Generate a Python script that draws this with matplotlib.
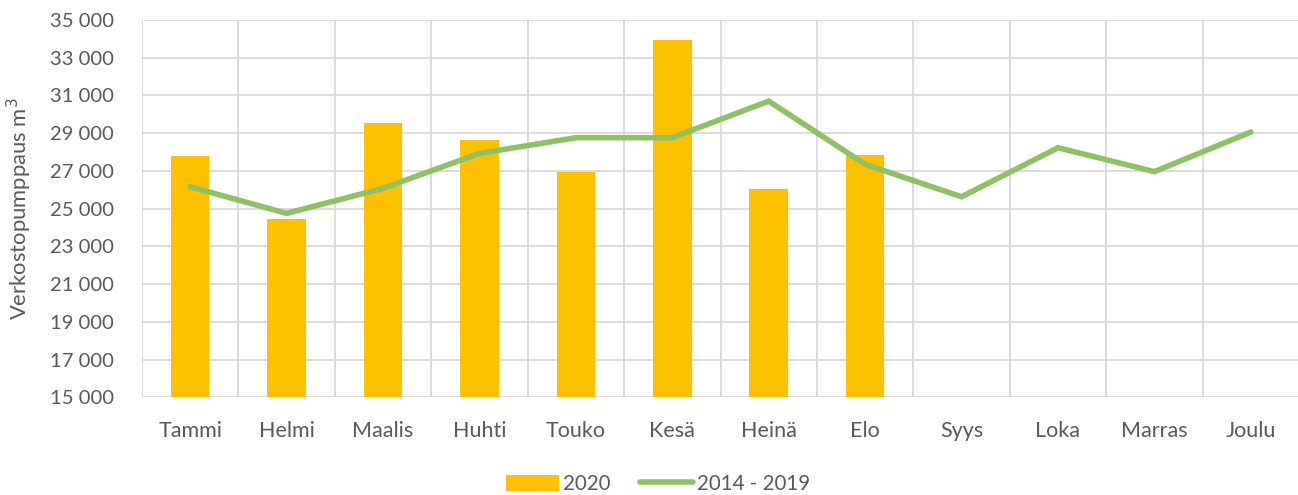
import matplotlib
matplotlib.use("Agg")
import matplotlib.pyplot as plt
import numpy as np
from matplotlib.ticker import FuncFormatter

months = ["Tammi", "Helmi", "Maalis", "Huhti", "Touko", "Kesä", "Heinä", "Elo",
          "Syys", "Loka", "Marras", "Joulu"]
values_2020 = [27800, 24450, 29520, 28650, 26960, 33930, 26020, 27840]
avg_2014_2019 = [26160, 24750, 26080, 27930, 28760, 28760, 30700, 27350,
                 25630, 28230, 26960, 29060]
y_ticks = list(range(15000, 35001, 2000))

plt.rcParams['font.family'] = ['Lato', 'DejaVu Sans']
text_color = "#595959"
grid_color = "#D9D9D9"

fig = plt.figure(figsize=(12.98, 4.95), dpi=100)
ax = fig.add_axes([142/1298, 1 - 397.3/495, (1299 - 142)/1298, (397.3 - 20)/495])

x = np.arange(len(months))
ax.bar(x[:len(values_2020)], values_2020, width=0.4, color="#FFC000", label="2020", zorder=2)
ax.plot(x, avg_2014_2019, color="#8DC163", lw=4.0, solid_capstyle="round",
        solid_joinstyle="miter", label="2014 - 2019", zorder=3)

ax.set_xlim(-0.5, len(months) - 0.5)
ax.set_ylim(15000, 35000)
ax.set_yticks(y_ticks)
ax.yaxis.set_major_formatter(FuncFormatter(lambda v, p: f"{int(v):,}".replace(",", " ")))
ax.set_xticks(x)
ax.set_xticklabels(months, fontsize=15.5)
ax.set_xticks(np.arange(-0.5, len(months)), minor=True)

ax.grid(axis="y", which="major", color=grid_color, lw=1.3, zorder=0)
ax.grid(axis="x", which="minor", color=grid_color, lw=1.3, zorder=0)
ax.set_axisbelow(True)
for s in ax.spines.values():
    s.set_visible(False)
ax.tick_params(axis="both", which="both", length=0, colors=text_color)
ax.tick_params(axis="y", pad=20, labelsize=14.6)
ax.tick_params(axis="x", pad=17)

ax.set_ylabel("Verkostopumppaus m$^3$", color=text_color, fontsize=15.8, labelpad=12)

handles, labels = ax.get_legend_handles_labels()
leg = fig.legend(handles[::-1], labels[::-1], loc="lower center", bbox_to_anchor=(0.507, -0.035),
                 ncol=2, frameon=False, fontsize=14.8, handlelength=2.6, handleheight=0.8,
                 columnspacing=1.4, handletextpad=0.2)
for t in leg.get_texts():
    t.set_color(text_color)

fig.savefig("out.png", dpi=100)
